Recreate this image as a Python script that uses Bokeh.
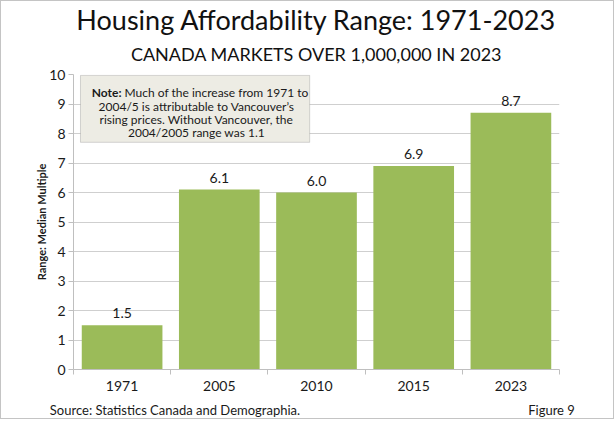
from bokeh.plotting import figure
from bokeh.models import (ColumnDataSource, Range1d, FixedTicker, Label, BoxAnnotation,
                          Title, LinearAxis)
from bokeh.embed import file_html
from bokeh.resources import INLINE

# ---- data ----
categories = ["1971", "2005", "2010", "2015", "2023"]
values = [1.5, 6.1, 6.0, 6.9, 8.7]
y_ticks = [0, 1, 2, 3, 4, 5, 6, 7, 8, 9, 10]

title_text = "Housing Affordability Range: 1971-2023"
subtitle_text = "CANADA MARKETS OVER 1,000,000 IN 2023"
ylabel_text = "Range: Median Multiple"
note_bold = "Note:"
note_line1 = "Much of the increase from 1971 to"
note_lines = ["2004/5 is attributable to Vancouver\u2019s",
              "rising prices. Without Vancouver, the",
              "2004/2005 range was 1.1"]
source_text = "Source: Statistics Canada and Demographia."
figure_text = "Figure 9"

FONT = "Lato"
GREEN = "#9BBB59"
GRAY = "#BFBFBF"
TXT = "#1a1a1a"

centers = [i + 0.5 for i in range(len(categories))]
bounds = [float(i) for i in range(len(categories) + 1)]

src = ColumnDataSource(dict(
    x=centers,
    top=values,
    label=[f"{v:.1f}" for v in values],
))

p = figure(width=614, height=419, output_backend="svg", toolbar_location=None,
           x_range=Range1d(0, len(categories)), y_range=Range1d(0, 10),
           min_border_left=72, min_border_right=56, min_border_top=73,
           min_border_bottom=50,
           styles={"border": "1px solid #C4C4C4"})
p.outline_line_color = None
p.background_fill_color = "white"
p.border_fill_color = "white"

# bars
p.vbar(x="x", top="top", width=0.83, source=src, fill_color=GREEN, line_color=None)
p.text(x="x", y="top", text="label", source=src, text_align="center",
       text_baseline="bottom", y_offset=-7, text_font_size="14px",
       text_font={"value": FONT}, text_color=TXT)

# axes
p.xgrid.grid_line_color = None
p.ygrid.grid_line_color = "#CFCFCF"
p.ygrid.ticker = FixedTicker(ticks=y_ticks)

ya = p.yaxis[0]
ya.ticker = FixedTicker(ticks=y_ticks)
ya.axis_line_color = GRAY
ya.major_tick_line_color = GRAY
ya.major_tick_out = 5
ya.major_tick_in = 0
ya.minor_tick_line_color = None
ya.major_label_text_font = FONT
ya.major_label_text_font_size = "14px"
ya.major_label_text_color = TXT
ya.major_label_standoff = 3
ya.axis_label = ylabel_text
ya.axis_label_text_font = FONT
ya.axis_label_text_font_size = "11px"
ya.axis_label_text_font_style = "bold"
ya.axis_label_text_color = TXT
ya.axis_label_standoff = -2

xa = p.xaxis[0]
xa.ticker = FixedTicker(ticks=centers, minor_ticks=bounds)
xa.major_label_overrides = {c: cat for c, cat in zip(centers, categories)}
xa.axis_line_color = GRAY
xa.major_tick_out = 0
xa.major_tick_in = 0
xa.major_tick_line_color = None
xa.minor_tick_line_color = GRAY
xa.minor_tick_out = 5
xa.minor_tick_in = 0
xa.major_label_text_font = FONT
xa.major_label_text_font_size = "14px"
xa.major_label_text_color = TXT
xa.major_label_standoff = 6

# footer line: source (left) and figure number (right) as an extra bottom axis
foot_pos = [1.044, 4.918]
foot_axis = LinearAxis(ticker=FixedTicker(ticks=foot_pos),
                       major_label_overrides={foot_pos[0]: source_text,
                                              foot_pos[1]: figure_text})
foot_axis.axis_line_color = None
foot_axis.major_tick_line_color = None
foot_axis.minor_tick_line_color = None
foot_axis.major_tick_out = 0
foot_axis.major_tick_in = 0
foot_axis.major_label_standoff = 8
foot_axis.major_label_text_font = FONT
foot_axis.major_label_text_font_size = "13px"
foot_axis.major_label_text_color = TXT
p.add_layout(foot_axis, "below")

# note box
box = BoxAnnotation(left=0.072, right=2.43, top=9.97, bottom=7.70,
                    fill_color="#EDECE4", fill_alpha=1.0,
                    line_color="#7F7F7F", line_width=1)
p.add_layout(box)
p.add_layout(Label(x=0.494, y=9.40, text=note_bold, text_align="right",
                   text_baseline="middle", text_font=FONT, text_font_size="12px",
                   text_font_style="bold", text_color=TXT))
p.add_layout(Label(x=0.525, y=9.40, text=note_line1, text_align="left",
                   text_baseline="middle", text_font=FONT, text_font_size="12px",
                   text_color=TXT))
for ly, t in zip([8.93, 8.48, 8.03], note_lines):
    p.add_layout(Label(x=1.265, y=ly, text=t, text_align="center",
                       text_baseline="middle", text_font=FONT, text_font_size="12px",
                       text_color=TXT))

# titles (subtitle added first -> closest to the frame)
p.add_layout(Title(text=subtitle_text, align="center", offset=-8, standoff=20,
                   text_font=FONT, text_font_size="18px", text_font_style="normal",
                   text_color="#111111"), "above")
p.add_layout(Title(text=title_text, align="center", offset=-8, standoff=-10,
                   text_font=FONT, text_font_size="27px", text_font_style="normal",
                   text_color="#111111"), "above")

open("out.html", "w").write(file_html(p, INLINE))
